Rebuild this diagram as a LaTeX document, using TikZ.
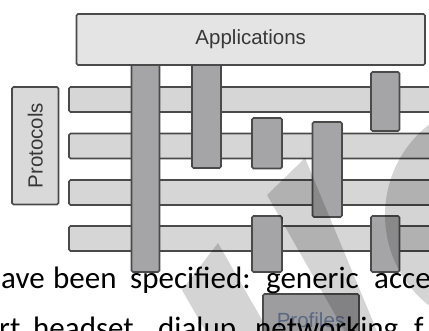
\documentclass[tikz,border=0pt]{standalone}
\usepackage{fontspec}
\setmainfont{Liberation Sans}
\newfontfamily\bodyfont{Carlito}
\newfontfamily\labelfont{Liberation Sans}
\definecolor{edgegray}{HTML}{4A4A4A}
\definecolor{appfill}{HTML}{E4E4E4}
\definecolor{hfill}{HTML}{D6D6D6}
\definecolor{vfill}{HTML}{A5A5A7}
\definecolor{labgray}{HTML}{383838}
\definecolor{proflab}{HTML}{5A6782}
\begin{document}
\begin{tikzpicture}[x=1pt,y=-1pt,
  box/.style={draw=edgegray,line width=1.6pt,rounded corners=1.5pt,inner sep=0pt,outer sep=0pt},
  hbar/.style={box,fill=hfill,minimum width=371pt,minimum height=25pt},
  vbar/.style={box,fill=vfill},
  lab/.style={font=\labelfont\fontsize{20.5}{22}\selectfont,text=labgray},
  word/.style={font=\bodyfont\fontsize{31}{36}\selectfont,anchor=base west,inner sep=0pt,text=black},
  wm/.style={fill=black,fill opacity=0.17,draw=none}]
\useasboundingbox (0,0) rectangle (429,330);
\clip (0,0) rectangle (429,330);
\fill[white] (0,0) rectangle (429,330);
% horizontal protocol bars
\node[hbar] (h1) at (254.5,99.5) {};
\node[hbar] (h2) at (254.5,146) {};
\node[hbar] (h3) at (254.5,192.5) {};
\node[hbar] (h4) at (254.5,238.5) {};
% vertical bars
\node[vbar,minimum width=28pt,minimum height=212pt] (v1) at (145.5,166) {};
\node[vbar,minimum width=29pt,minimum height=110pt] (v2) at (206.5,113) {};
\node[vbar,minimum width=30pt,minimum height=50.5pt] (v3) at (267,143.25) {};
\node[vbar,minimum width=29.5pt,minimum height=95pt] (v4) at (327.25,169.5) {};
\node[vbar,minimum width=28.5pt,minimum height=59pt] (v5) at (385.25,101.5) {};
\node[vbar,minimum width=30pt,minimum height=56pt] (v6) at (267,244) {};
\node[vbar,minimum width=28.5pt,minimum height=56pt] (v7) at (385.25,244) {};
% applications and protocols
\node[box,fill=appfill,minimum width=348.5pt,minimum height=51pt,lab] (app) at (250.75,39.5) {Applications};
\node[box,fill=appfill!95!black,minimum width=46.5pt,minimum height=117.5pt] (prot) at (35.25,145.75) {};
\node[lab,rotate=90] (protlab) at (prot.center) {Protocols};
% profiles box
\node[box,fill=vfill!95!black,minimum width=96pt,minimum height=52pt,lab,text=proflab] (prof) at (311,320) {Profiles};
% body text
\node[word] (w1) at (1,288) {ave};
\node[word] (w2) at (53,288) {been};
\node[word] (w3) at (130,288) {specified:};
\node[word] (w4) at (266,288) {generic};
\node[word] (w5) at (374,288) {acce};
\node[word] (w6) at (-1,338) {rt};
\node[word] (w7) at (33,338) {headset};
\node[word] (w8) at (158,338) {dialup};
\node[word] (w9) at (255,338) {networking};
\node[word] (w10) at (414,338) {f};
% watermark
\fill[wm] (218,243) -- (182,290) -- (222,360) -- (285,360) -- cycle;
\fill[wm] (267,195) -- (305,158) -- (389,360) -- (361,360) -- cycle;
\fill[wm] (500,215) circle[radius=115];
\end{tikzpicture}
\end{document}
